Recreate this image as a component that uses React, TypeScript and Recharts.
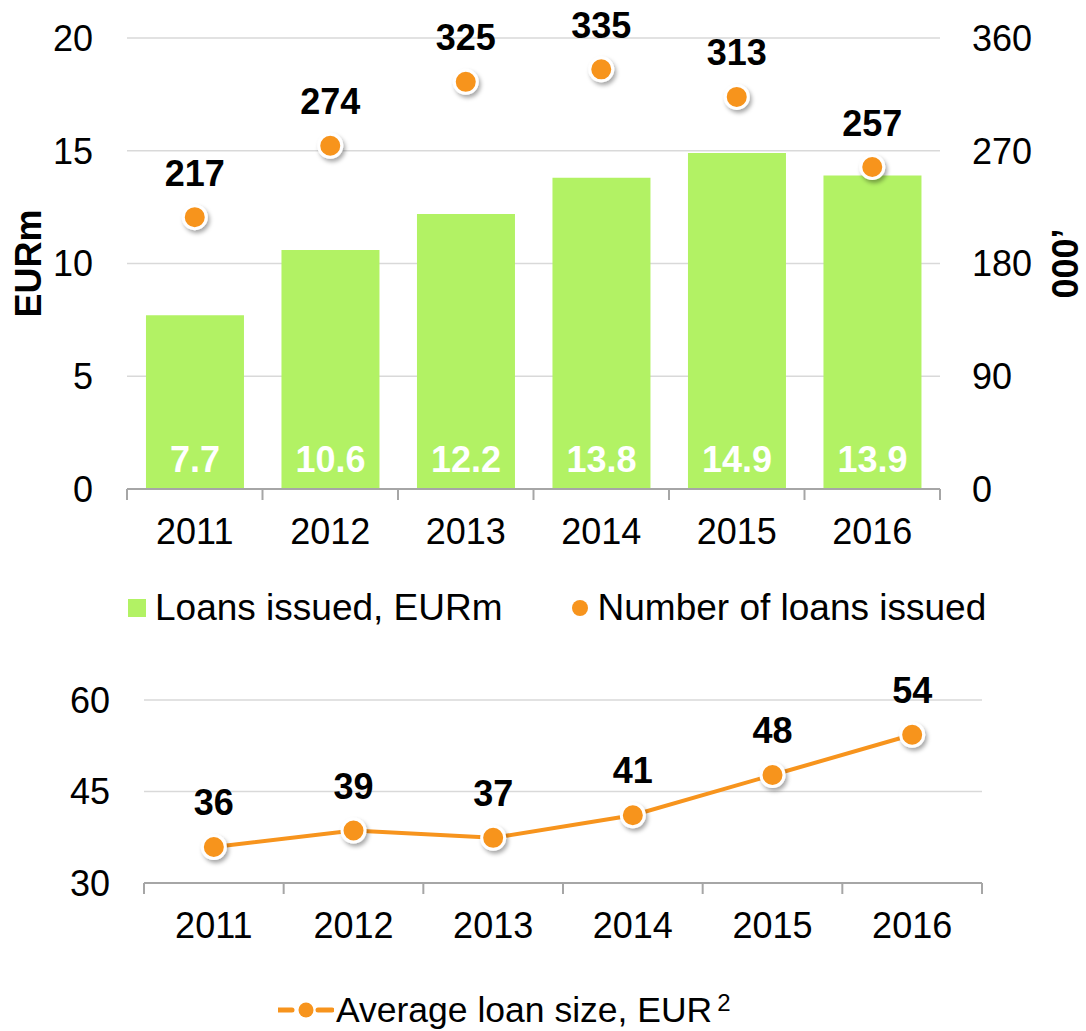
import React from 'react';
import {
  ComposedChart,
  Bar,
  Scatter,
  Line,
  XAxis,
  YAxis,
  CartesianGrid,
  LabelList,
  Legend,
} from 'recharts';

const years = ['2011', '2012', '2013', '2014', '2015', '2016'];
const loansIssued = [7.7, 10.6, 12.2, 13.8, 14.9, 13.9];
const loanCount = [217, 274, 325, 335, 313, 257];
const avgLoanSize = [35.9, 38.6, 37.4, 41.1, 47.7, 54.3];

const leftTicks = [0, 5, 10, 15, 20];
const rightTicks = [0, 90, 180, 270, 360];
const avgTicks = [30, 45, 60];

const FONT = '"Liberation Sans", Arial, Helvetica, sans-serif';
const ORANGE = '#f7941d';
const GREEN = '#b2f264';
const GRID = '#d9d9d9';
const AXIS = '#a6a6a6';

const topData = years.map((year, i) => ({ year, loans: loansIssued[i], count: loanCount[i] }));
const bottomData = years.map((year, i) => ({ year, avg: avgLoanSize[i] }));

const tickStyle = { fill: '#000', fontSize: 36 };

// year label, with tick marks on the category edges (Excel style)
function YearTick(props: any) {
  const { x, y, payload, index, visibleTicksCount, width } = props;
  const half = payload && payload.offset ? payload.offset : Number(width) / visibleTicksCount / 2;
  const last = index === visibleTicksCount - 1;
  return (
    <g>
      <line x1={x - half} x2={x - half} y1={y} y2={y + 11} stroke={AXIS} strokeWidth={2} />
      {last && <line x1={x + half} x2={x + half} y1={y} y2={y + 11} stroke={AXIS} strokeWidth={2} />}
      <text x={x} y={y + 29} dy="0.71em" textAnchor="middle" fontSize={36} fill="#000">
        {payload.value}
      </text>
    </g>
  );
}

function Dot(props: any) {
  const { cx, cy } = props;
  if (cx == null || cy == null) return null;
  return (
    <circle cx={cx} cy={cy} r={11.5} fill={ORANGE} stroke="#fff" strokeWidth={3} filter="url(#dotShadow)" />
  );
}

function TopLegend() {
  return (
    <div style={{ display: 'flex', alignItems: 'center', paddingLeft: 128, fontSize: 37, lineHeight: '44px', color: '#000' }}>
      <span style={{ width: 18, height: 18, background: GREEN, marginRight: 9 }} />
      <span>Loans issued, EURm</span>
      <span style={{ width: 16, height: 16, borderRadius: '50%', background: ORANGE, marginLeft: 69, marginRight: 10 }} />
      <span>Number of loans issued</span>
    </div>
  );
}

function BottomLegend() {
  return (
    <div style={{ display: 'flex', alignItems: 'center', paddingLeft: 278, fontSize: 35.5, lineHeight: '44px', color: '#000' }}>
      <svg width={56} height={20} style={{ marginRight: 2 }}>
        <line x1={0} x2={14} y1={10} y2={10} stroke={ORANGE} strokeWidth={5} strokeLinecap="round" />
        <circle cx={28} cy={10} r={7.5} fill={ORANGE} />
        <line x1={40} x2={54} y1={10} y2={10} stroke={ORANGE} strokeWidth={5} strokeLinecap="round" />
      </svg>
      <span>Average loan size, EUR</span>
      <span style={{ fontSize: 24, alignSelf: 'flex-start', marginLeft: 5, lineHeight: '30px' }}>2</span>
    </div>
  );
}

const sideLabel = (text: string, dx: number, angle: number) => (p: any) => {
  const vb = p.viewBox;
  const x = vb.x + dx;
  const y = vb.y + vb.height / 2;
  return (
    <text x={x} y={y} transform={`rotate(${angle}, ${x}, ${y})`} textAnchor="middle" dominantBaseline="central"
      fontSize={36} fontWeight="bold" fill="#000">
      {text}
    </text>
  );
};

export default function App() {
  return (
    <div style={{ position: 'absolute', left: 0, top: 0, width: 1086, height: 1031, background: '#fff', fontFamily: FONT }}>
      <ComposedChart width={1086} height={640} data={topData} margin={{ top: 38, right: 0, bottom: 91, left: 0 }} barCategoryGap="14%">
        <defs>
          <filter id="dotShadow" x="-60%" y="-60%" width="220%" height="220%">
            <feDropShadow dx={2} dy={3} stdDeviation={2} floodColor="#000" floodOpacity={0.35} />
          </filter>
        </defs>
        <CartesianGrid vertical={false} stroke={GRID} strokeWidth={1.5} yAxisId="left" />
        <XAxis dataKey="year" tickLine={false} axisLine={{ stroke: AXIS, strokeWidth: 2 }} tickSize={0} tickMargin={0}
          height={60} interval={0} tick={<YearTick />} />
        <YAxis yAxisId="left" domain={[0, 20]} ticks={leftTicks} width={127} axisLine={false} tickLine={false}
          tickSize={0} tickMargin={34} tick={tickStyle} label={{ content: sideLabel('EURm', 28, -90) }} />
        <YAxis yAxisId="right" orientation="right" domain={[0, 360]} ticks={rightTicks} width={146} axisLine={false}
          tickLine={false} tickSize={0} tickMargin={32} tick={tickStyle}
          label={{ content: sideLabel('000\u2019', 125, -90) }} />
        <Bar yAxisId="left" dataKey="loans" fill={GREEN} isAnimationActive={false}>
          <LabelList dataKey="loans" position="insideBottom" offset={17} fill="#fff" fontSize={36} fontWeight="bold" />
        </Bar>
        <Scatter yAxisId="right" dataKey="count" fill={ORANGE} isAnimationActive={false}
          shape={(p: any) => <Dot {...p} />}>
          <LabelList dataKey="count" position="top" offset={27} fill="#000" fontSize={36} fontWeight="bold" />
        </Scatter>
        <Legend layout="horizontal" verticalAlign="middle" align="center"
          wrapperStyle={{ top: 586, left: 0, width: 1086, height: 44 }} content={() => <TopLegend />} />
      </ComposedChart>

      <ComposedChart width={1086} height={391} data={bottomData} margin={{ top: 60, right: 104, bottom: 78, left: 0 }}>
        <CartesianGrid vertical={false} stroke={GRID} strokeWidth={1.5} />
        <XAxis dataKey="year" scale="band" tickLine={false} axisLine={{ stroke: AXIS, strokeWidth: 2 }} tickSize={0}
          tickMargin={0} height={70} interval={0} tick={<YearTick />} />
        <YAxis domain={[30, 60]} ticks={avgTicks} width={144} axisLine={false} tickLine={false}
          tickSize={0} tickMargin={34} tick={tickStyle} />
        <Line dataKey="avg" stroke={ORANGE} strokeWidth={4} isAnimationActive={false}
          dot={(p: any) => <Dot key={`d-${p.index}`} cx={p.cx} cy={p.cy} />}>
          <LabelList dataKey="avg" position="top" offset={32} fill="#000" fontSize={36} fontWeight="bold"
            formatter={(v: any) => Math.round(Number(v))} />
        </Line>
        <Legend layout="horizontal" verticalAlign="middle" align="center"
          wrapperStyle={{ top: 348, left: 0, width: 1086, height: 44 }} content={() => <BottomLegend />} />
      </ComposedChart>
    </div>
  );
}
